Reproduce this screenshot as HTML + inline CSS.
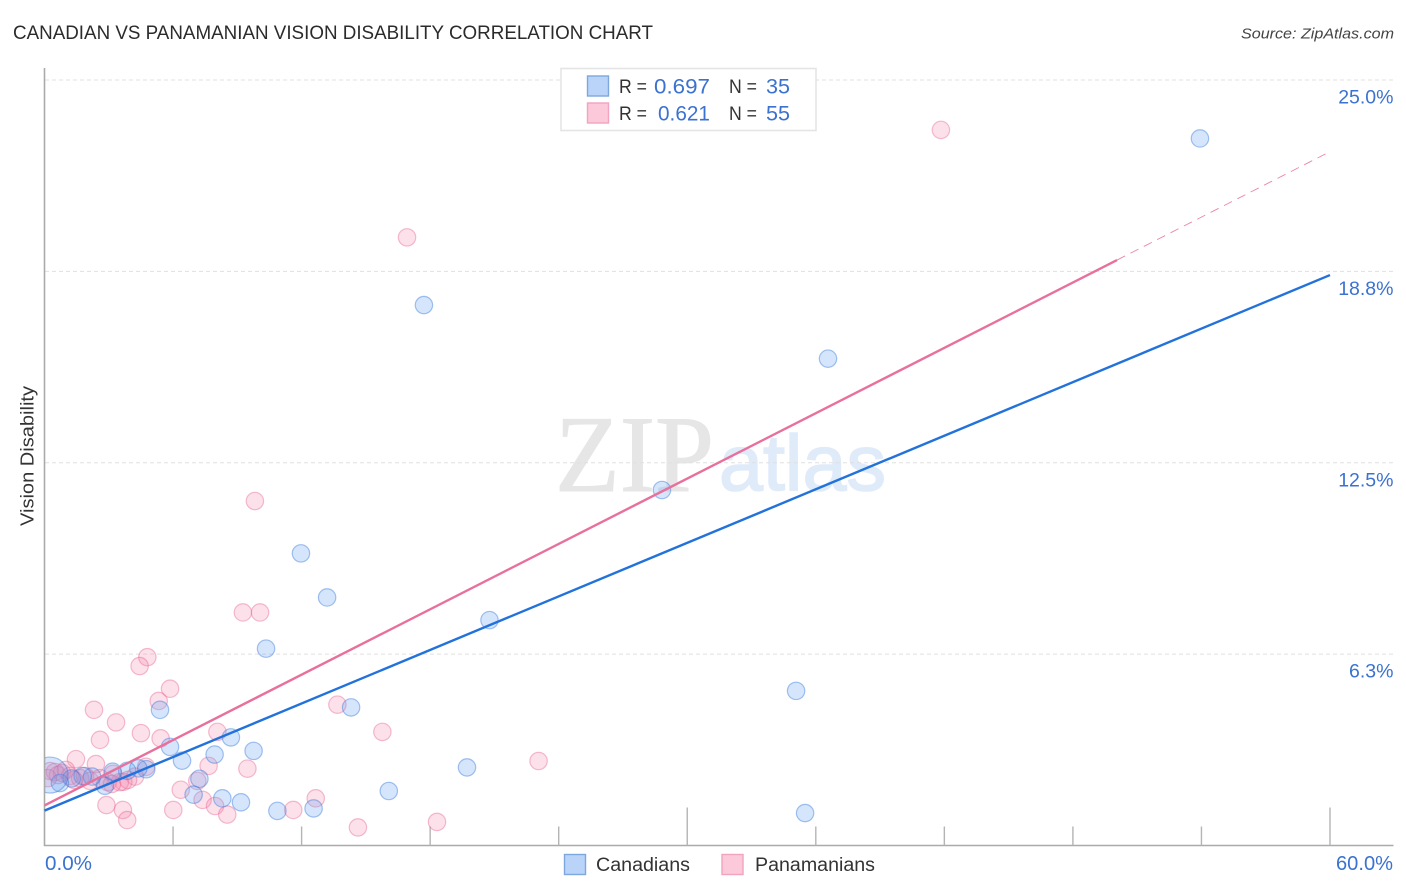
<!DOCTYPE html>
<html lang="en">
<head>
<meta charset="utf-8">
<title>Canadian vs Panamanian Vision Disability Correlation Chart</title>
<style>
html,body{margin:0;padding:0;background:#fff;width:1406px;height:892px;overflow:hidden}
svg{display:block}
text{font-family:"Liberation Sans",sans-serif}
</style>
</head>
<body>
<svg id="chart" width="1406" height="892" viewBox="0 0 1406 892" xmlns="http://www.w3.org/2000/svg">
  <defs>
    <clipPath id="plot-clip"><rect x="45" y="60" width="1350" height="785"></rect></clipPath>
  </defs>
  <text x="13" y="39" font-size="19" fill="#2b2b2b" textLength="640" lengthAdjust="spacingAndGlyphs">CANADIAN VS PANAMANIAN VISION DISABILITY CORRELATION CHART</text>
  <text x="1241" y="38.5" font-size="15" font-style="italic" fill="#444" textLength="153" lengthAdjust="spacingAndGlyphs">Source: ZipAtlas.com</text>
  <g id="watermark">
    <text x="555" y="491" font-size="109" fill="#e6e6e6" stroke="#e6e6e6" stroke-width="1" textLength="159" lengthAdjust="spacingAndGlyphs" style="font-family:'Liberation Serif',serif">ZIP</text>
    <text x="719" y="490" font-size="79" fill="#e0ebfa" stroke="#e0ebfa" stroke-width="1.6" textLength="167" lengthAdjust="spacingAndGlyphs">atlas</text>
  </g>
  <g id="grid"></g>
  <g id="axes"></g>
  <g id="points" clip-path="url(#plot-clip)"></g>
  <g id="trends"></g>
  <text transform="translate(33.5,526) rotate(-90)" font-size="18.5" fill="#333" textLength="140" lengthAdjust="spacingAndGlyphs">Vision Disability</text>

  <g>
    <rect x="561" y="68.5" width="255" height="62" fill="#fff" stroke="#e4e4e4" stroke-width="1.6"></rect>
    <rect x="587.5" y="76" width="21" height="20" fill="#b9d4f8" stroke="#7da8dc" stroke-width="1.4"></rect>
    <text x="619" y="93" font-size="19.5" fill="#333" textLength="28" lengthAdjust="spacingAndGlyphs">R =</text>
    <text x="654" y="93.5" font-size="21" fill="#3b72d0" textLength="56" lengthAdjust="spacingAndGlyphs">0.697</text>
    <text x="729" y="93" font-size="19.5" fill="#333" textLength="28" lengthAdjust="spacingAndGlyphs">N =</text>
    <text x="766" y="93.5" font-size="21" fill="#3b72d0" textLength="24" lengthAdjust="spacingAndGlyphs">35</text>
    <rect x="587.5" y="103" width="21" height="20" fill="#fcc9da" stroke="#f0a4bf" stroke-width="1.4"></rect>
    <text x="619" y="120" font-size="19.5" fill="#333" textLength="28" lengthAdjust="spacingAndGlyphs">R =</text>
    <text x="658" y="120.5" font-size="21" fill="#3b72d0" textLength="52" lengthAdjust="spacingAndGlyphs">0.621</text>
    <text x="729" y="120" font-size="19.5" fill="#333" textLength="28" lengthAdjust="spacingAndGlyphs">N =</text>
    <text x="766" y="120.5" font-size="21" fill="#3b72d0" textLength="24" lengthAdjust="spacingAndGlyphs">55</text>
  </g>

  <g>
    <rect x="564.5" y="854.5" width="21" height="20" fill="#b9d4f8" stroke="#7da8dc" stroke-width="1.4"></rect>
    <text x="596" y="871" font-size="19" fill="#333" textLength="94" lengthAdjust="spacingAndGlyphs">Canadians</text>
    <rect x="722" y="854.5" width="21" height="20" fill="#fcc9da" stroke="#f0a4bf" stroke-width="1.4"></rect>
    <text x="755" y="871" font-size="19" fill="#333" textLength="120" lengthAdjust="spacingAndGlyphs">Panamanians</text>
  </g>
</svg>
<script>
// Chart data (percent units)
var canadianX = [53.93,17.71,36.57,28.82,11.97,13.19,20.77,35.08,19.72,35.50,10.34,5.39,14.31,9.76,8.70,5.86,6.42,7.94,7.23,6.96,8.30,9.17,10.87,12.56,16.07,4.75,4.38,3.86,2.82,3.18,2.22,1.78,1.27,0.72,0.26];
var canadianY = [23.09,17.65,15.90,11.61,9.54,8.10,7.36,5.05,2.55,1.06,6.43,4.43,4.51,3.09,3.53,3.22,2.77,2.97,2.18,1.66,1.54,1.41,1.13,1.21,1.78,2.49,2.52,2.44,1.95,2.41,2.25,2.27,2.19,2.04,2.30];
var panamanianX = [4.80,4.44,5.86,5.33,4.50,5.42,8.07,13.67,15.77,9.47,7.66,6.36,7.13,7.38,7.96,8.53,6.01,11.61,12.66,14.63,4.74,4.22,3.68,3.66,3.86,41.84,16.92,9.82,9.26,10.06,2.31,3.34,2.59,1.47,2.40,2.89,23.06,18.32,0.26,0.49,0.63,0.82,1.00,1.19,1.66,1.89,2.12,2.59,2.96,3.20,3.52,3.90,0.16,1.38,3.15];
var panamanianY = [6.15,5.86,5.12,4.72,3.67,3.50,3.71,4.60,3.71,2.51,2.60,1.82,2.11,1.49,1.29,1.01,1.16,1.16,1.54,0.59,2.57,2.25,2.08,1.16,0.83,23.37,19.86,11.25,7.61,7.61,4.43,4.02,3.45,2.82,2.66,1.32,2.76,0.77,2.43,2.40,2.30,2.37,2.47,2.27,2.20,2.27,2.11,2.20,2.07,2.34,2.07,2.14,2.20,2.14,2.01];
var canadianTrendX = [0,60];
var canadianTrendY = [1.14,18.63];
var panamanianTrendX = [0,50.06];
var panamanianTrendY = [1.31,19.12];
var panamanianProjectionX = [50.06,60];
var panamanianProjectionY = [19.12,22.66];
var yTickValues = [25,18.75,12.5,6.25];
var yTickLabels = ["25.0%","18.8%","12.5%","6.3%"];
var xTickValues = [6,12,18,24,30,36,42,48,54,60];
var xEndValues = [0,60];
var xEndLabels = ["0.0%","60.0%"];

var NS = "http://www.w3.org/2000/svg";
function xScale(v){ return 44.5 + v / 60 * 1285.5; }
function yScale(v){ return 845.5 - v / 25 * 765.5; }
function make(tag, attrs, parent){
  var el = document.createElementNS(NS, tag);
  for (var k in attrs) el.setAttribute(k, attrs[k]);
  parent.appendChild(el);
  return el;
}
var grid = document.getElementById("grid");
var axes = document.getElementById("axes");
var pts = document.getElementById("points");
var trends = document.getElementById("trends");

yTickValues.forEach(function(v, i){
  var line = make("line", {x1:45, x2:1393, y1:yScale(v), y2:yScale(v), stroke:"#e0e0e0", "stroke-width":1, "stroke-dasharray":"4 3"}, grid);
  
  
  var label = make("text", {x:1393.5, y:yScale(v) + 23.5, "font-size":19.5, fill:"#3b72d0", "text-anchor":"end"}, axes);
  
  
  label.textContent = yTickLabels[i];
});

var yAxis = make("line", {x1:44.5, x2:44.5, y1:68, y2:846, stroke:"#aaaaaa", "stroke-width":1.6}, axes);


var xAxis = make("line", {x1:44, x2:1393.5, y1:845.5, y2:845.5, stroke:"#aaaaaa", "stroke-width":1.6}, axes);



xTickValues.forEach(function(v){
  var tall = v % 30 === 0;
  var tick = make("line", {x1:xScale(v), x2:xScale(v), y1:tall ? 807.5 : 826.5, y2:845.5, stroke:"#b4b4b4", "stroke-width":1.4}, axes);
  
  
});

xEndValues.forEach(function(v, i){
  var first = i === 0;
  var px = first ? xScale(v) + 0.5 : xScale(v) + 6;
  var label = make("text", {x:px, y:870, "font-size":20, fill:"#3b72d0", textLength:first ? 47 : 57, lengthAdjust:"spacingAndGlyphs"}, axes);
  
  
  label.textContent = xEndLabels[i];
});

function drawPoints(xs, ys, fill, stroke, name, largeIndex){
  xs.forEach(function(v, i){
    var c = make("circle", {cx:xScale(v), cy:yScale(ys[i]), r:i === largeIndex ? 18 : 8.7, fill:fill, stroke:stroke, "stroke-width":1.2}, pts);
    
    
  });
}
drawPoints(panamanianX, panamanianY, "rgba(245,130,170,0.25)", "rgba(232,100,145,0.42)", "panamanian-point", -1);
drawPoints(canadianX, canadianY, "rgba(100,160,240,0.27)", "rgba(45,115,220,0.42)", "canadian-point", canadianX.length - 1);

var canadianTrend = make("line", {x1:xScale(canadianTrendX[0]), y1:yScale(canadianTrendY[0]), x2:xScale(canadianTrendX[1]), y2:yScale(canadianTrendY[1]), stroke:"#2272dc", "stroke-width":2.4}, trends);


var panamanianTrend = make("line", {x1:xScale(panamanianTrendX[0]), y1:yScale(panamanianTrendY[0]), x2:xScale(panamanianTrendX[1]), y2:yScale(panamanianTrendY[1]), stroke:"#e8709c", "stroke-width":2.4}, trends);


var panamanianProjection = make("line", {x1:xScale(panamanianProjectionX[0]), y1:yScale(panamanianProjectionY[0]), x2:xScale(panamanianProjectionX[1]), y2:yScale(panamanianProjectionY[1]), stroke:"#eb84a8", "stroke-width":0.9, "stroke-dasharray":"9 6"}, trends);


</script>
</body>
</html>
